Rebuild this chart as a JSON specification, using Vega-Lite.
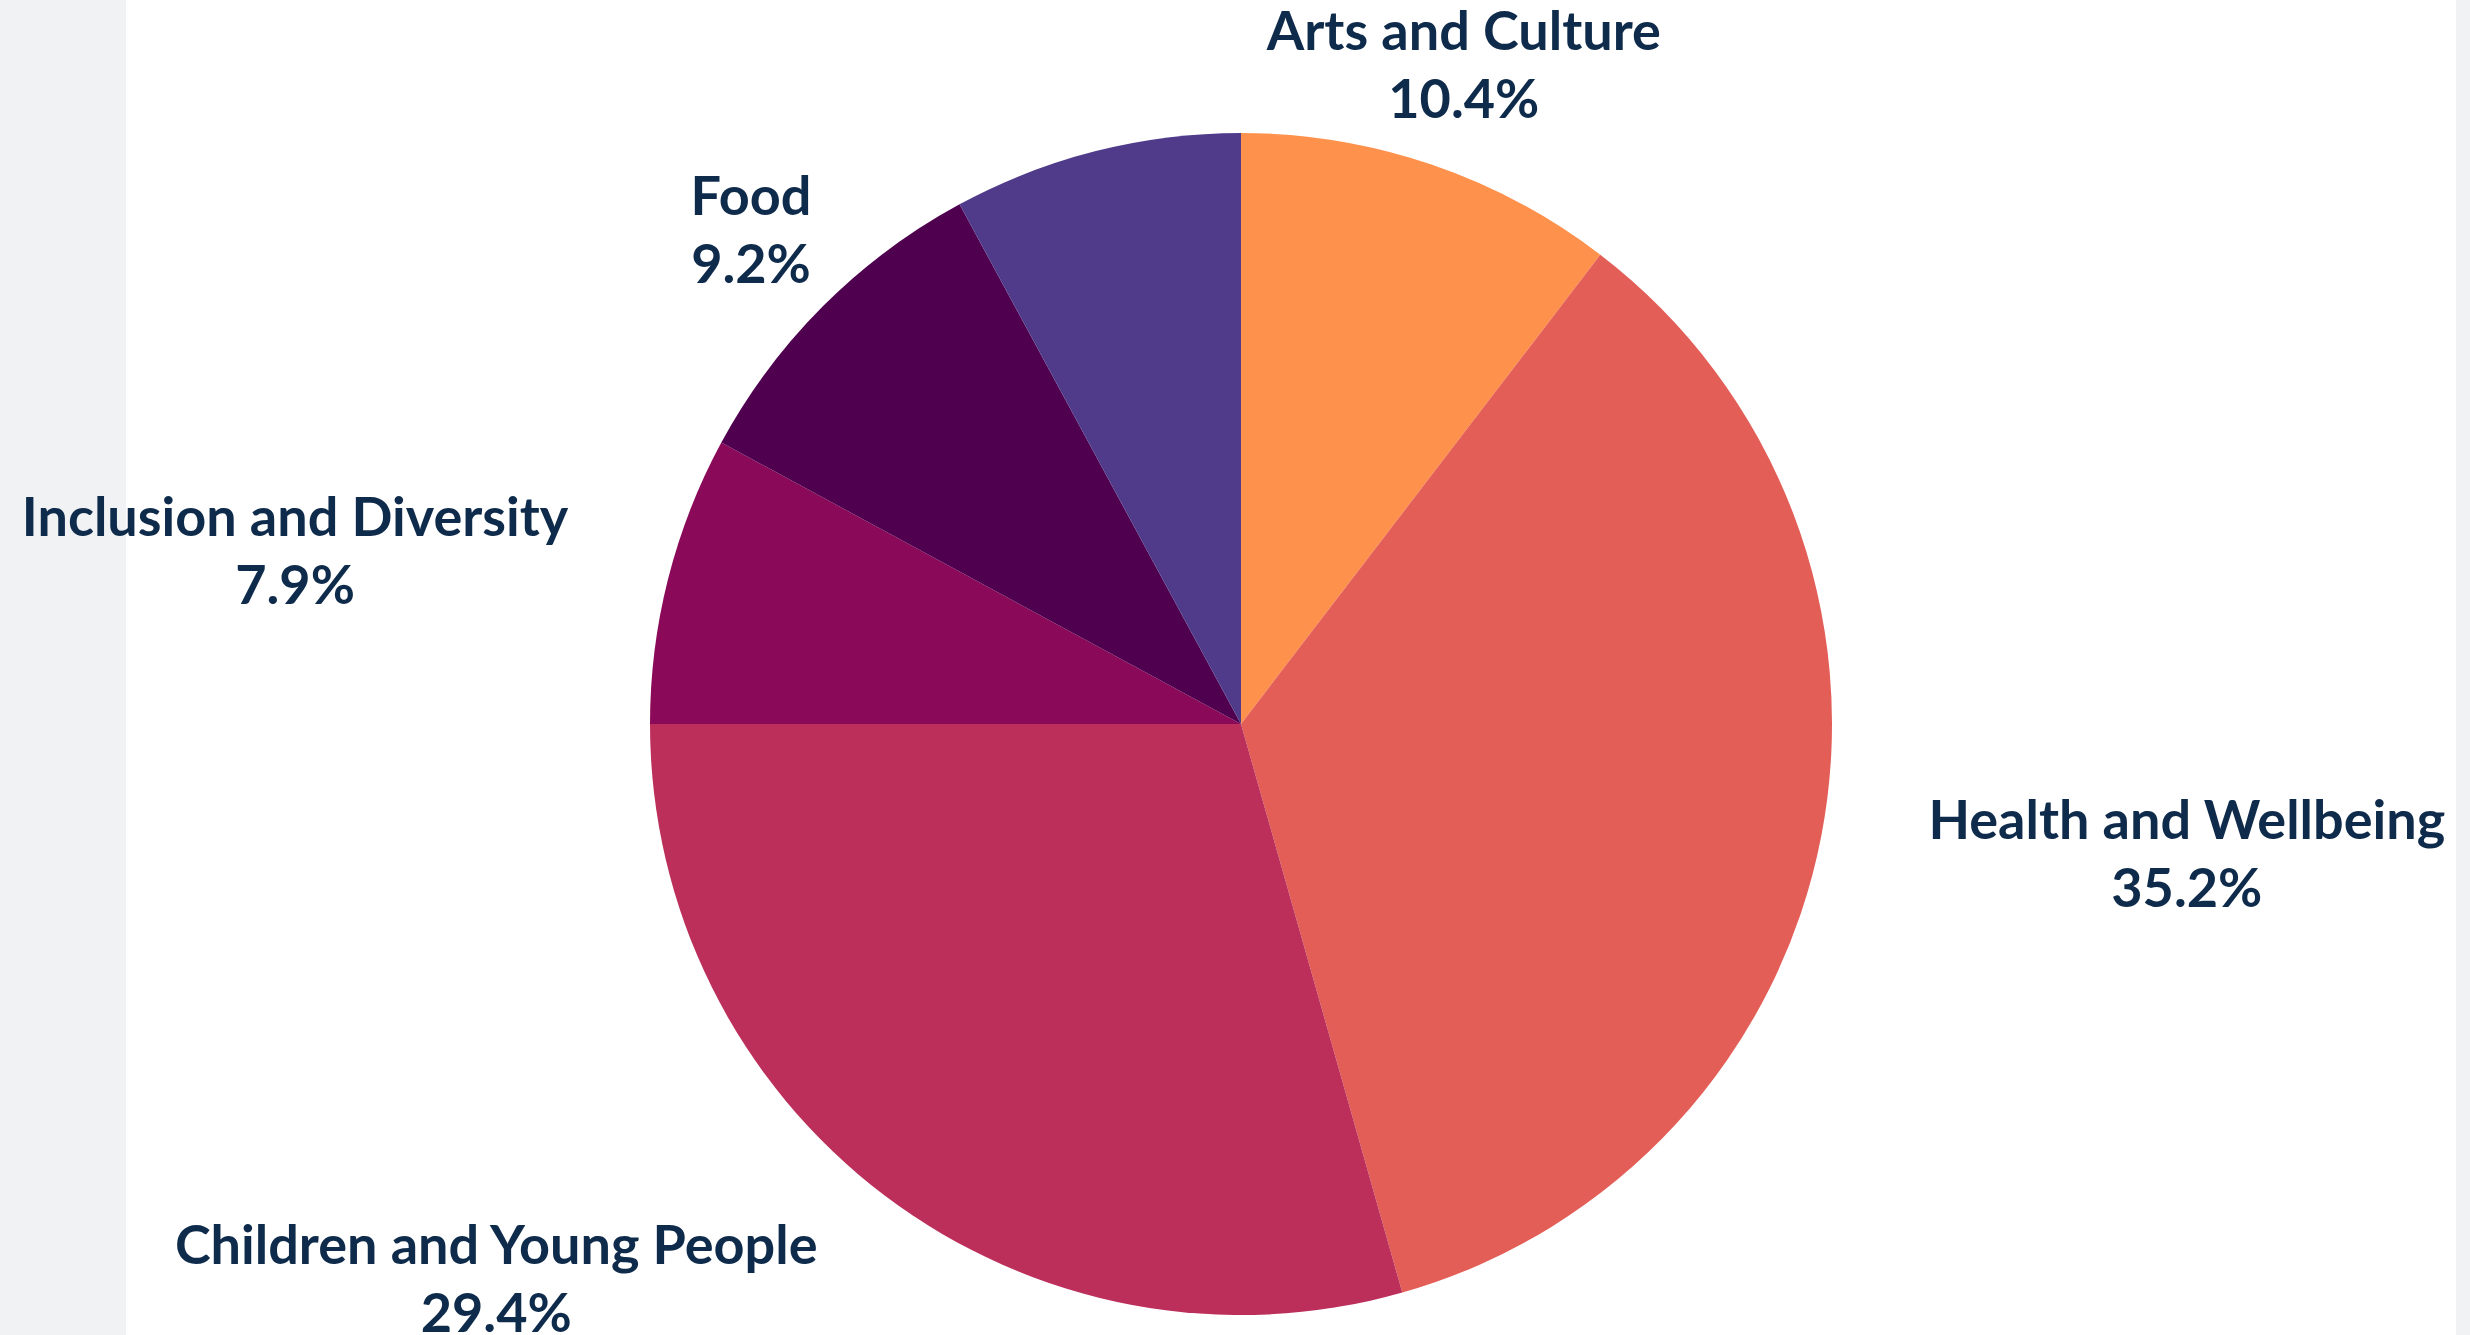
{
  "$schema": "https://vega.github.io/schema/vega-lite/v6.json",
  "padding": 0,
  "spacing": 0,
  "bounds": "flush",
  "background": "white",
  "config": {"view": {"stroke": null}},
  "datasets": {
    "shares": [
      {"category": "Arts and Culture", "share": 10.4},
      {"category": "Health and Wellbeing", "share": 35.2},
      {"category": "Children and Young People", "share": 29.4},
      {"category": "Inclusion and Diversity", "share": 7.9},
      {"category": "Food", "share": 9.2},
      {"category": "Other", "share": 7.9}
    ]
  },
  "hconcat": [
    {
      "width": 126,
      "height": 1335,
      "view": {"fill": "#f1f2f4", "stroke": null},
      "data": {"values": []},
      "mark": {"type": "point", "opacity": 0}
    },
    {
      "width": 2330,
      "height": 1335,
      "data": {"name": "shares"},
      "transform": [
        {"window": [{"op": "row_number", "as": "order"}]},
        {"calculate": "datum.category + '\\n' + format(datum.share, '.1f') + '%'", "as": "label"}
      ],
      "encoding": {
        "theta": {"field": "share", "type": "quantitative", "stack": true},
        "order": {"field": "order", "type": "quantitative", "sort": "ascending"},
        "color": {
          "field": "category",
          "type": "nominal",
          "legend": null,
          "scale": {
            "domain": ["Arts and Culture", "Health and Wellbeing", "Children and Young People", "Inclusion and Diversity", "Food", "Other"],
            "range": ["#fe914c", "#e35e57", "#bb2f5a", "#8a0a59", "#4f004f", "#4f3b8a"]
          }
        }
      },
      "layer": [
        {"mark": {"type": "arc", "radius": 591, "xOffset": -50, "yOffset": 56.5}},
        {
          "mark": {"type": "text", "radius": 688, "dx": -48, "dy": 18, "align": "center", "baseline": "middle", "font": "Lato", "fontWeight": "bold", "lineHeight": 68, "lineBreak": "\n"},
          "encoding": {
            "color": {"value": "#0f2b4b"},
            "size": {"condition": {"test": "datum.category === 'Arts and Culture'", "value": 54}, "value": 0},
            "text": {"condition": {"test": "datum.category === 'Arts and Culture'", "field": "label"}, "value": ""}
          }
        },
        {
          "mark": {"type": "text", "radius": 688, "dx": 220, "dy": 26.5, "align": "center", "baseline": "middle", "font": "Lato", "fontWeight": "bold", "lineHeight": 68, "lineBreak": "\n"},
          "encoding": {
            "color": {"value": "#0f2b4b"},
            "size": {"condition": {"test": "datum.category === 'Health and Wellbeing'", "value": 54}, "value": 0},
            "text": {"condition": {"test": "datum.category === 'Health and Wellbeing'", "field": "label"}, "value": ""}
          }
        },
        {
          "mark": {"type": "text", "radius": 688, "dx": -380, "dy": 31.5, "align": "center", "baseline": "middle", "font": "Lato", "fontWeight": "bold", "lineHeight": 68, "lineBreak": "\n"},
          "encoding": {
            "color": {"value": "#0f2b4b"},
            "size": {"condition": {"test": "datum.category === 'Children and Young People'", "value": 54}, "value": 0},
            "text": {"condition": {"test": "datum.category === 'Children and Young People'", "field": "label"}, "value": ""}
          }
        },
        {
          "mark": {"type": "text", "radius": 688, "dx": -329, "dy": 21.5, "align": "center", "baseline": "middle", "font": "Lato", "fontWeight": "bold", "lineHeight": 68, "lineBreak": "\n"},
          "encoding": {
            "color": {"value": "#0f2b4b"},
            "size": {"condition": {"test": "datum.category === 'Inclusion and Diversity'", "value": 54}, "value": 0},
            "text": {"condition": {"test": "datum.category === 'Inclusion and Diversity'", "field": "label"}, "value": ""}
          }
        },
        {
          "mark": {"type": "text", "radius": 688, "dx": -53.5, "dy": 18, "align": "center", "baseline": "middle", "font": "Lato", "fontWeight": "bold", "lineHeight": 68, "lineBreak": "\n"},
          "encoding": {
            "color": {"value": "#0f2b4b"},
            "size": {"condition": {"test": "datum.category === 'Food'", "value": 54}, "value": 0},
            "text": {"condition": {"test": "datum.category === 'Food'", "field": "label"}, "value": ""}
          }
        }
      ]
    },
    {
      "width": 14,
      "height": 1335,
      "view": {"fill": "#f1f2f4", "stroke": null},
      "data": {"values": []},
      "mark": {"type": "point", "opacity": 0}
    }
  ]
}
